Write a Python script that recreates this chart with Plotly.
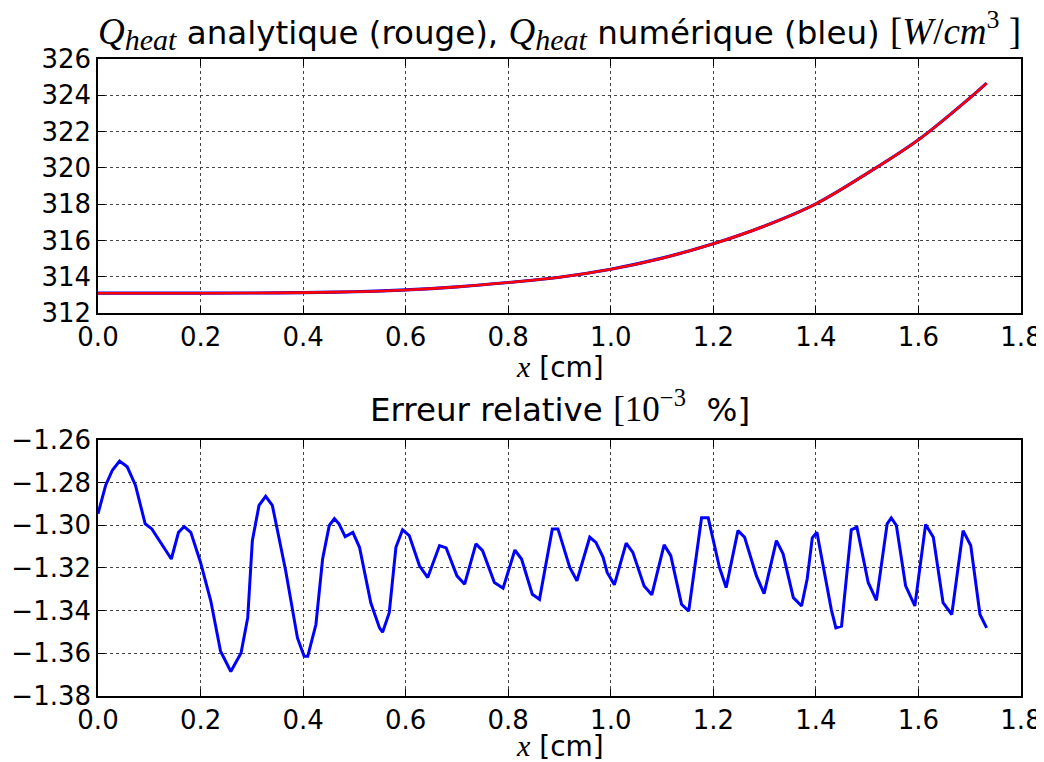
import plotly.graph_objects as go

# ---- data ----
x_q = [0.0, 0.1, 0.2, 0.3, 0.4, 0.5, 0.6, 0.7, 0.8, 0.9, 1.0, 1.1, 1.2, 1.3, 1.4, 1.5, 1.6, 1.7, 1.733]
q_heat = [313.10, 313.10, 313.10, 313.11, 313.13, 313.18, 313.28, 313.45, 313.69, 313.98,
          314.42, 315.03, 315.82, 316.80, 318.02, 319.70, 321.55, 323.85, 324.67]

x_err = [0.000, 0.015, 0.028, 0.042, 0.057, 0.073, 0.092, 0.105, 0.143, 0.157,
         0.168, 0.181, 0.200, 0.220, 0.239, 0.259, 0.279, 0.292, 0.301, 0.314,
         0.327, 0.340, 0.366, 0.389, 0.402, 0.409, 0.425, 0.438, 0.451, 0.461,
         0.470, 0.482, 0.497, 0.510, 0.532, 0.549, 0.555, 0.568, 0.581, 0.594,
         0.607, 0.627, 0.643, 0.666, 0.679, 0.700, 0.715, 0.737, 0.750, 0.773,
         0.790, 0.813, 0.826, 0.847, 0.861, 0.886, 0.897, 0.920, 0.934, 0.959,
         0.971, 0.985, 0.993, 1.007, 1.030, 1.043, 1.065, 1.080, 1.104, 1.117,
         1.138, 1.152, 1.177, 1.190, 1.212, 1.225, 1.248, 1.261, 1.284, 1.299,
         1.323, 1.336, 1.356, 1.372, 1.383, 1.393, 1.402, 1.414, 1.430, 1.439,
         1.450, 1.469, 1.480, 1.502, 1.518, 1.539, 1.547, 1.557, 1.575, 1.593,
         1.614, 1.629, 1.648, 1.665, 1.687, 1.702, 1.720, 1.733]
err_rel = [-1.2946, -1.2812, -1.2742, -1.2699, -1.2726, -1.2812, -1.2993, -1.3017, -1.3158, -1.3033,
           -1.3006, -1.3033, -1.3174, -1.3355, -1.3590, -1.3685, -1.3598, -1.3433, -1.3072, -1.2907,
           -1.2864, -1.2907, -1.3213, -1.3528, -1.3614, -1.3614, -1.3465, -1.3158, -1.3001, -1.2969,
           -1.2993, -1.3053, -1.3033, -1.3103, -1.3363, -1.3481, -1.3501, -1.3410, -1.3103, -1.3021,
           -1.3048, -1.3190, -1.3245, -1.3095, -1.3106, -1.3237, -1.3276, -1.3087, -1.3119, -1.3268,
           -1.3295, -1.3116, -1.3158, -1.3323, -1.3347, -1.3017, -1.3017, -1.3198, -1.3260, -1.3056,
           -1.3080, -1.3150, -1.3221, -1.3279, -1.3084, -1.3127, -1.3284, -1.3326, -1.3092, -1.3142,
           -1.3370, -1.3402, -1.2965, -1.2965, -1.3198, -1.3292, -1.3025, -1.3056, -1.3237, -1.3320,
           -1.3072, -1.3134, -1.3339, -1.3378, -1.3252, -1.3059, -1.3033, -1.3190, -1.3394, -1.3481,
           -1.3473, -1.3021, -1.3009, -1.3268, -1.3352, -1.2993, -1.2965, -1.3001, -1.3284, -1.3378,
           -1.2996, -1.3056, -1.3363, -1.3418, -1.3025, -1.3095, -1.3418, -1.3481]

x_ticks = [0.0, 0.2, 0.4, 0.6, 0.8, 1.0, 1.2, 1.4, 1.6, 1.8]
y1_ticks = [312, 314, 316, 318, 320, 322, 324, 326]
y2_ticks = [-1.38, -1.36, -1.34, -1.32, -1.30, -1.28, -1.26]

FONT = "DejaVu Sans"
MATH = "Liberation Serif"
FS_TICK = 26
FS_LABEL = 28
FS_TITLE = 32.5

fig = go.Figure()
fig.add_trace(go.Scatter(x=x_q, y=q_heat, mode="lines", line=dict(color="#0000ff", width=3.2, shape="spline"),
                         xaxis="x", yaxis="y", showlegend=False))
fig.add_trace(go.Scatter(x=x_q, y=q_heat, mode="lines", line=dict(color="#ff0000", width=2.6, shape="spline"),
                         xaxis="x", yaxis="y", showlegend=False))
fig.add_trace(go.Scatter(x=x_err, y=err_rel, mode="lines", line=dict(color="#0000ff", width=3),
                         xaxis="x2", yaxis="y2", showlegend=False))

ax_common = dict(showline=True, linecolor="black", linewidth=1.5, mirror="ticks",
                 ticks="inside", ticklen=7, tickcolor="black", tickwidth=1,
                 showgrid=True, gridcolor="#444444", griddash="dot", gridwidth=1,
                 zeroline=False, automargin=False,
                 tickfont=dict(family=FONT, size=FS_TICK, color="black"))

dom_top = [0.601, 1.0]
dom_bot = [0.0, 0.402]

# page body has an 8px margin: figure is sized so it fits inside the 1044x762 window
fig.update_layout(
    width=1036, height=754,
    margin=dict(l=90, r=23, t=51, b=66, autoexpand=False),
    paper_bgcolor="white", plot_bgcolor="white",
    xaxis=dict(domain=[0, 1], anchor="y", range=[0, 1.8], tickvals=x_ticks, tickformat=".1f", **ax_common),
    yaxis=dict(domain=dom_top, anchor="x", range=[312, 326], tickvals=y1_ticks, tickformat="d", **ax_common),
    xaxis2=dict(domain=[0, 1], anchor="y2", range=[0, 1.8], tickvals=x_ticks, tickformat=".1f", **ax_common),
    yaxis2=dict(domain=dom_bot, anchor="x2", range=[-1.38, -1.26], tickvals=y2_ticks, tickformat=".2f", **ax_common),
)


def m(s, size=None):
    st = f"font-family:{MATH}"
    if size:
        st += f";font-size:{size}px"
    return f"<span style='{st}'><i>{s}</i></span>"


qh = f"{m('Q', 37)}<sub>{m('heat', 30)}</sub>"
title1 = (f"{qh} analytique (rouge), {qh} numérique (bleu) "
          f"<span style='font-family:{MATH};font-size:37px'>[<i>W</i>/<i>cm</i><sup>3</sup> ]</span>")
title2 = (f"Erreur relative <span style='font-family:{MATH};font-size:35px'>[10<sup>−3</sup></span>"
          f"  %]")
xlab = f"{m('x', 30)} [cm]"

annots = [
    dict(text=title1, x=0.5, y=1.044, size=FS_TITLE),
    dict(text=title2, x=0.5, y=0.454, size=FS_TITLE),
    dict(text=xlab, x=0.5, y=0.5165, size=FS_LABEL),
    dict(text=xlab, x=0.5, y=-0.0785, size=FS_LABEL),
]
for a in annots:
    size = a.pop("size")
    fig.add_annotation(xref="paper", yref="paper", xanchor="center", yanchor="middle", showarrow=False,
                       font=dict(family=FONT, size=size, color="black"), **a)

fig.write_html("out.html")
